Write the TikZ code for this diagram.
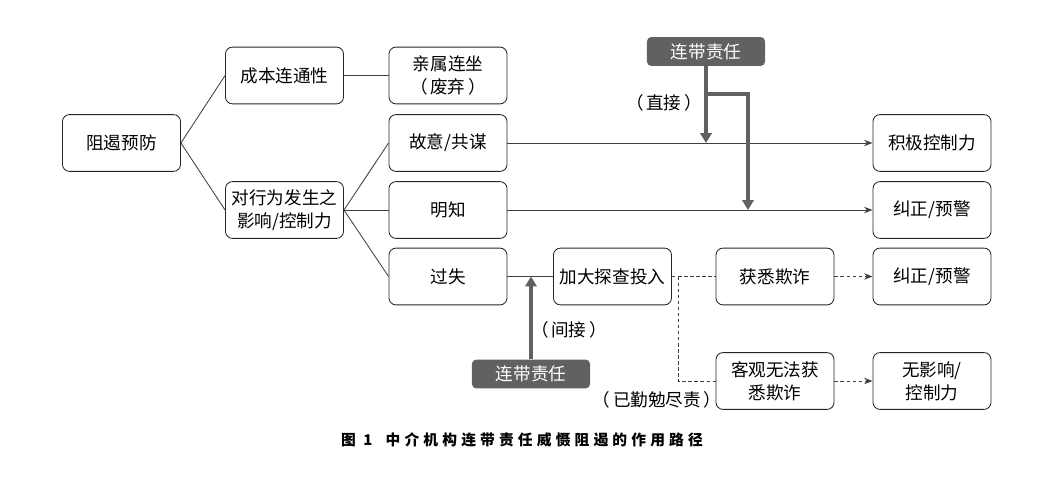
\documentclass[tikz,border=0pt]{standalone}
\usepackage{fontspec}
\setmainfont{Noto Sans CJK SC}
\newfontfamily\capfont[LetterSpace=28]{Noto Sans CJK SC}
\usetikzlibrary{arrows.meta}

\begin{document}
\begin{tikzpicture}[x=0.025cm, y=-0.025cm, font=\fontsize{12.5pt}{16.5pt}\selectfont,
  box/.style={draw=black!85, line width=0.6pt, rounded corners=5pt, minimum width=2.95cm, minimum height=1.42cm, align=center, inner sep=1pt},
  zeren/.style={fill=black!62, text=white, rounded corners=3pt, minimum width=2.95cm, minimum height=0.72cm, inner sep=1pt},
  line/.style={draw=black!75, line width=0.6pt},
  arr/.style={line, -{Stealth[length=6pt,width=4.5pt]}},
  dashline/.style={line, dash pattern=on 2.5pt off 1.8pt},
  thickarr/.style={draw=black!62, line width=2.8pt, -{Triangle[length=7pt,width=8pt]}}]
  \useasboundingbox (0,0) rectangle (1040,478);

  % left part
  \node[box] (zy) at (121.5,143) {阻遏预防};
  \node[box] (cb) at (284.5,75.5) {成本连通性};
  \node[box] (qs) at (448,75.5) {亲属连坐\\（\hspace{0.15em}废弃\hspace{0.15em}）};
  \node[box] (dx) at (284.5,210) {对行为发生之\\影响/控制力};
  \node[box] (gy) at (448,143) {故意/共谋};
  \node[box] (mz) at (448,210) {明知};
  \node[box] (gs) at (448,276.5) {过失};

  % right part
  \node[box] (jd) at (612.5,276.5) {加大探查投入};
  \node[box] (hx) at (775,276.5) {获悉欺诈};
  \node[box] (kg) at (775,381) {客观无法获\\悉欺诈};
  \node[box] (jj) at (932,143) {积极控制力};
  \node[box] (jz) at (932,210) {纠正/预警};
  \node[box] (jzb) at (932,276.5) {纠正/预警};
  \node[box] (wy) at (932,381) {无影响/\\控制力};

  \node[zeren] (ztop) at (706,51.5) {连带责任};
  \node[zeren] (zbot) at (531,374) {连带责任};

  \node (zj) at (664,103) {（\hspace{0.15em}直接\hspace{0.15em}）};
  \node (jj2) at (569,330) {（\hspace{0.15em}间接\hspace{0.15em}）};
  \node (qm) at (657,400) {（\hspace{0.15em}已勤勉尽责\hspace{0.15em}）};

  % connectors
  \draw[line] (zy.east) -- (cb.west);
  \draw[line] (zy.east) -- (dx.west);
  \draw[line] (cb.east) -- (qs.west);
  \draw[line] (dx.east) -- (gy.west);
  \draw[line] (dx.east) -- (mz.west);
  \draw[line] (dx.east) -- (gs.west);
  \draw[line] (gs.east) -- (jd.west);
  \draw[arr] (gy.east) -- (jj.west);
  \draw[arr] (mz.east) -- (jz.west);

  \draw[dashline] (jd.east) -- (hx.west);
  \coordinate (fd) at (678,276.5);
  \draw[dashline] (fd) |- (kg.west);
  \draw[dashline, -{Stealth[length=6pt,width=4.5pt]}] (hx.east) -- (jzb.west);
  \draw[dashline, -{Stealth[length=6pt,width=4.5pt]}] (kg.east) -- (wy.west);

  % liability arrows
  \draw[thickarr] (ztop.south) -- (ztop.south |- gy.east);
  \coordinate (fz) at (748,94);
  \draw[thickarr] (ztop.south |- fz) -- (fz) -- (fz |- mz.east);
  \draw[thickarr] (zbot.north) -- (zbot.north |- gs.east);

  \node (cap) at (522,440) {\capfont\fontsize{10.5pt}{12pt}\selectfont\bfseries 图 1\hspace{0.9em}中介机构连带责任威慑阻遏的作用路径};
\end{tikzpicture}
\end{document}
